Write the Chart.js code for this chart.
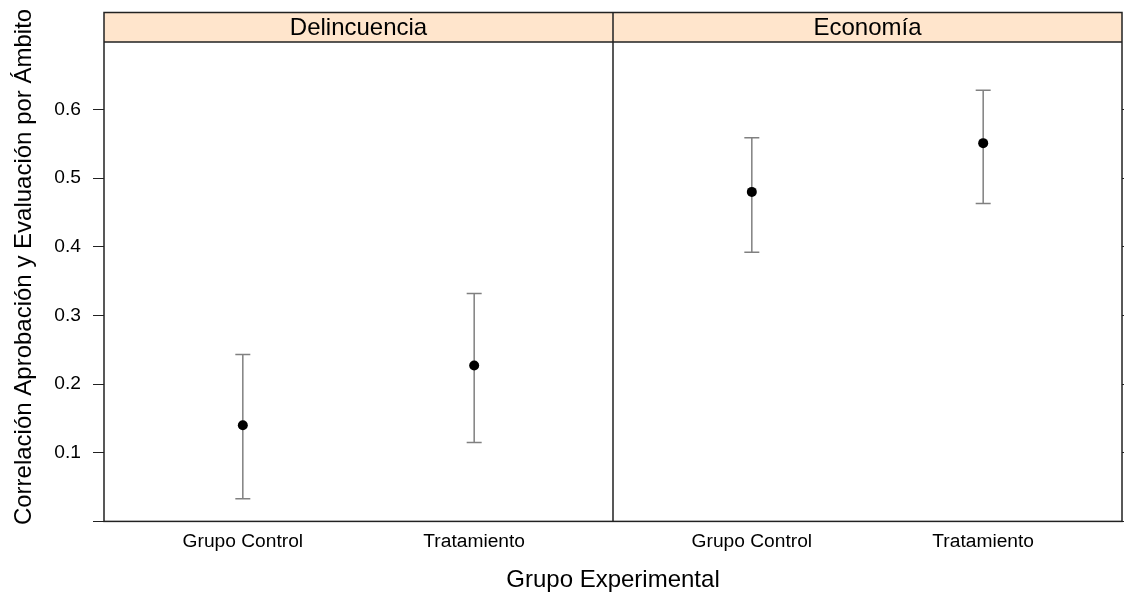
<!DOCTYPE html>
<html>
<head>
<meta charset="utf-8">
<script src="https://cdn.jsdelivr.net/npm/chart.js@4/dist/chart.umd.min.js"></script>
<style>
  html, body { margin: 0; padding: 0; background: #fff; }
  #wrap { width: 1124px; height: 595px; }
</style>
</head>
<body>
<div id="wrap"><canvas id="chart" width="1124" height="595"></canvas></div>
<script>
// Two lattice-style panels (one per ámbito) sharing the same y scale.
// Each group: point estimate with a confidence interval drawn as an error bar.

const panels = ["Delincuencia", "Economía"];
const groups = ["Grupo Control", "Tratamiento"];

const delincuenciaEst   = [0.140, 0.227];
const delincuenciaLower = [0.033, 0.115];
const delincuenciaUpper = [0.243, 0.332];

const economiaEst   = [0.480, 0.551];
const economiaLower = [0.392, 0.463];
const economiaUpper = [0.559, 0.628];

const yTicks = [0, 0.1, 0.2, 0.3, 0.4, 0.5, 0.6];

const estimates = [delincuenciaEst, economiaEst];
const lowers = [delincuenciaLower, economiaLower];
const uppers = [delincuenciaUpper, economiaUpper];

// each panel covers 2.2 x-units (0.4 .. 2.6), like lattice's factor limits
const PANEL_SPAN = 2.2;
const X_MIN = 0.4;
const groupX = (pi, gi) => gi + 1 + pi * PANEL_SPAN;

const FONT = "'Liberation Sans', Arial, sans-serif";
const STRIP_BG = "#ffe5cc";
const STRIP_H = 29.5;
const FRAME = "#222";
const BAR = "#808080";

const points = [];
const tickPositions = [];
const tickLabels = [];
panels.forEach((p, pi) => {
    groups.forEach((g, gi) => {
        points.push({ x: groupX(pi, gi), y: estimates[pi][gi] });
        tickPositions.push(groupX(pi, gi));
        tickLabels.push(g);
    });
});

// no extra room for half-labels at the axis ends
function noEdgePadding(s) {
    s.paddingTop = 0;
    s.paddingBottom = 0;
    s.paddingLeft = 0;
    s.paddingRight = 0;
}

const panelFrame = {
    id: "panelFrame",
    beforeDatasetsDraw(chart) {
        const { ctx, chartArea: a, scales: { x, y } } = chart;
        ctx.save();
        ctx.fillStyle = STRIP_BG;
        ctx.fillRect(a.left, a.top, a.right - a.left, STRIP_H);

        // error bars
        ctx.strokeStyle = BAR;
        ctx.lineWidth = 1.5;
        const cap = 7.5;
        panels.forEach((p, pi) => {
            groups.forEach((g, gi) => {
                const px = x.getPixelForValue(groupX(pi, gi));
                const lo = y.getPixelForValue(lowers[pi][gi]);
                const hi = y.getPixelForValue(uppers[pi][gi]);
                ctx.beginPath();
                ctx.moveTo(px, lo); ctx.lineTo(px, hi);
                ctx.moveTo(px - cap, lo); ctx.lineTo(px + cap, lo);
                ctx.moveTo(px - cap, hi); ctx.lineTo(px + cap, hi);
                ctx.stroke();
            });
        });
        ctx.restore();
    },
    afterDraw(chart) {
        const { ctx, chartArea: a, scales: { x } } = chart;
        ctx.save();
        ctx.strokeStyle = FRAME;
        ctx.lineWidth = 1.5;
        ctx.strokeRect(a.left, a.top, a.right - a.left, a.bottom - a.top);
        ctx.beginPath();
        ctx.moveTo(a.left, a.top + STRIP_H); ctx.lineTo(a.right, a.top + STRIP_H);
        for (let pi = 1; pi < panels.length; pi++) {
            const dx = x.getPixelForValue(X_MIN + pi * PANEL_SPAN);
            ctx.moveTo(dx, a.top); ctx.lineTo(dx, a.bottom);
        }
        ctx.stroke();

        ctx.fillStyle = "#000";
        ctx.font = `24px ${FONT}`;
        ctx.textAlign = "center";
        ctx.textBaseline = "middle";
        panels.forEach((p, pi) => {
            const l = x.getPixelForValue(X_MIN + pi * PANEL_SPAN);
            const r = x.getPixelForValue(X_MIN + (pi + 1) * PANEL_SPAN);
            ctx.fillText(p, (l + r) / 2, a.top + STRIP_H / 2 + 1);
        });
        ctx.restore();
    }
};

new Chart(document.getElementById("chart"), {
    type: "scatter",
    data: {
        datasets: [{
            data: points,
            pointRadius: 5,
            pointHoverRadius: 5,
            pointBackgroundColor: "#000",
            pointBorderWidth: 0
        }]
    },
    options: {
        responsive: false,
        animation: false,
        devicePixelRatio: 1,
        layout: { autoPadding: false, padding: { top: 12.5, left: 0, right: 0, bottom: 0 } },
        plugins: {
            legend: { display: false },
            tooltip: { enabled: false }
        },
        scales: {
            x: {
                type: "linear",
                min: X_MIN,
                max: X_MIN + panels.length * PANEL_SPAN,
                afterBuildTicks: (s) => { s.ticks = tickPositions.map(v => ({ value: v })); },
                afterFit: (s) => { s.height = 73.6; noEdgePadding(s); },
                grid: { display: false, drawTicks: false },
                border: { display: false },
                ticks: {
                    autoSkip: false,
                    maxRotation: 0,
                    padding: 9,
                    color: "#000",
                    font: { family: FONT, size: 19.2 },
                    callback: (v) => tickLabels[tickPositions.indexOf(v)]
                },
                title: {
                    display: true,
                    text: "Grupo Experimental",
                    color: "#000",
                    font: { family: FONT, size: 24 },
                    padding: { top: 0, bottom: 0 }
                }
            },
            y: {
                type: "linear",
                position: "left",
                min: 0,
                max: 0.7413,
                afterBuildTicks: (s) => { s.ticks = yTicks.map(v => ({ value: v })); },
                afterFit: (s) => { s.width = 104; noEdgePadding(s); },
                grid: { drawOnChartArea: false, drawTicks: true, tickLength: 11, color: FRAME, lineWidth: 1 },
                border: { display: false },
                ticks: {
                    padding: 12,
                    color: "#000",
                    font: { family: FONT, size: 19.2 },
                    callback: (v) => v === 0 ? "" : v.toFixed(1)
                },
                title: {
                    display: true,
                    text: "Correlación Aprobación y Evaluación por Ámbito",
                    color: "#000",
                    font: { family: FONT, size: 24 },
                    padding: { top: 10, bottom: 0 }
                }
            },
            y2: {
                type: "linear",
                axis: "y",
                position: "right",
                min: 0,
                max: 0.7413,
                afterBuildTicks: (s) => { s.ticks = yTicks.map(v => ({ value: v })); },
                afterFit: (s) => { s.width = 2; noEdgePadding(s); },
                grid: { drawOnChartArea: false, drawTicks: true, tickLength: 11, color: FRAME, lineWidth: 1 },
                border: { display: false },
                ticks: { padding: 0, callback: () => "" }
            }
        }
    },
    plugins: [panelFrame]
});
</script>
</body>
</html>
